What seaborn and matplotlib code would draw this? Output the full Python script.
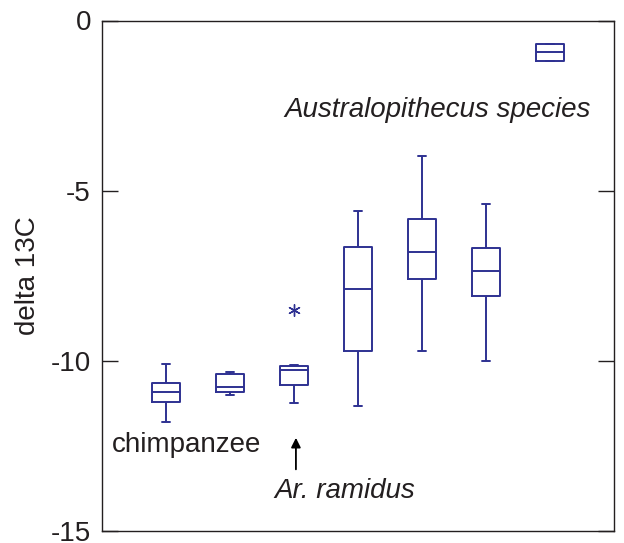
import numpy as np
import pandas as pd
import matplotlib
matplotlib.use("Agg")
import matplotlib.pyplot as plt
import seaborn as sns

# five-number summaries per group: whisker low, q1, median, q3, whisker high
groups = ["chimp_a", "chimp_b", "ramidus", "aus_1", "aus_2", "aus_3", "aus_4"]
g1 = [-11.81, -11.21, -10.91, -10.66, -10.10]
g2 = [-11.00, -10.91, -10.76, -10.40, -10.32]
g3 = [-11.23, -10.72, -10.28, -10.16, -10.13]
g4 = [-11.32, -9.70, -7.90, -6.65, -5.60]
g5 = [-9.70, -7.60, -6.79, -5.84, -3.98]
g6 = [-10.01, -8.10, -7.35, -6.69, -5.38]
g7 = [-1.19, -1.19, -0.93, -0.68, -0.68]
outlier_group = [2]
outlier_value = [-8.51]
yticks = [0, -5, -10, -15]

series = [g1, g2, g3, g4, g5, g6, g7]
df = pd.DataFrame({
    "group": [g for g, vals in zip(groups, series) for _ in vals],
    "value": [v for vals in series for v in vals],
})

sns.set_theme(style="white")
plt.rcParams["font.family"] = ["Liberation Sans", "DejaVu Sans"]

navy = "#2e3192"
ink = "#231f20"
fig = plt.figure(figsize=(6.24, 5.43), dpi=100)
ax = fig.add_axes([102/624, 1-531/543, (614-102)/624, (531-20.5)/543])

sns.boxplot(data=df, x="group", y="value", order=groups, whis=(0, 100),
            fill=False, color=navy, linewidth=1.4, width=0.45,
            capwidths=0.11, ax=ax)
sns.scatterplot(x=outlier_group, y=outlier_value, marker=(6, 2, 0), s=70,
                color=navy, linewidth=1.0, ax=ax)

ax.set_xlim(-1.0, 7.0)
ax.set_ylim(-15, 0)
ax.set_yticks(yticks)
ax.set_yticklabels([str(t) for t in yticks])
ax.set_xticks([])
ax.set_xlabel("")
ax.set_ylabel("delta 13C", fontsize=20, labelpad=7, color=ink)
ax.tick_params(axis="y", direction="in", length=11.5, width=1.0, labelsize=20,
               right=True, left=True, pad=8, color=ink, labelcolor=ink)
for s in ax.spines.values():
    s.set_visible(True)
    s.set_color(ink)
    s.set_linewidth(1.0)

ax.text(-0.85, -12.67, "chimpanzee", fontsize=20, ha="left", va="baseline", color=ink)
ax.text(1.70, -14.04, "Ar. ramidus", fontsize=20, ha="left", va="baseline",
        style="italic", color=ink)
ax.text(6.64, -2.84, "Australopithecus species", fontsize=20, ha="right",
        va="baseline", style="italic", color=ink)
ax.annotate("", xy=(2.03, -12.18), xytext=(2.03, -13.27),
            arrowprops=dict(arrowstyle="-|>", color="black", lw=1.3,
                            mutation_scale=14))

fig.savefig("out.png", dpi=100)
